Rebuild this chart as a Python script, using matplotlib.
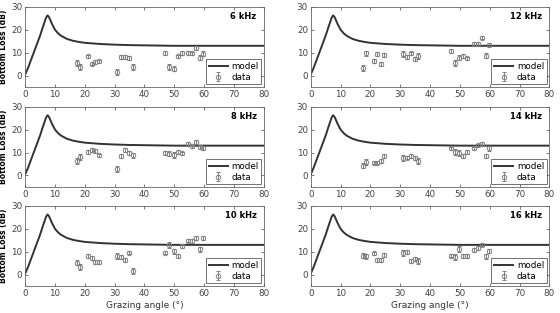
import numpy as np
import matplotlib.pyplot as plt

# model curve (same in every panel)
model_angle = [0, 1, 2, 3, 4, 5, 6, 7, 7.5, 8, 9, 10, 11, 12, 14, 16, 18, 20,
               25, 30, 35, 40, 45, 50, 60, 70, 80]
model_loss = [0.5, 3.5, 7.0, 10.5, 14.0, 17.5, 21.5, 25.3, 26.3, 25.5, 22.5,
              20.0, 18.5, 17.4, 16.0, 15.2, 14.7, 14.3, 13.8, 13.5, 13.3,
              13.2, 13.1, 13.0, 13.0, 13.0, 13.0]

# measurement angles (shared by all frequencies)
angles = [17.5, 18.5, 21.1, 22.3, 23.4, 24.6, 30.9, 32.1, 33.6, 34.8, 36.1,
          46.9, 48.3, 49.8, 51.1, 52.5, 54.6, 56.0, 57.3, 58.6, 59.7]
err = [1.2, 1.2, 0.8, 0.8, 0.8, 0.8, 1.3, 0.8, 0.8, 0.8, 1.3,
       0.8, 1.2, 1.2, 0.8, 0.8, 0.8, 0.8, 0.8, 1.0, 1.0]

loss_6k = [5.5, 3.7, 8.4, 5.2, 5.8, 6.2, 1.5, 8.1, 8.1, 7.8, 3.7,
           9.9, 3.7, 3.0, 8.4, 9.9, 10.0, 9.7, 12.1, 7.8, 9.6]
loss_8k = [6.2, 8.1, 10.3, 11.1, 10.8, 8.7, 2.7, 8.4, 11.1, 9.9, 8.7,
           9.9, 9.5, 8.9, 10.3, 9.6, 13.6, 12.7, 14.5, 12.4, 12.0]
loss_10k = [5.2, 3.4, 8.1, 7.4, 5.5, 5.6, 8.1, 7.8, 6.4, 9.6, 1.6,
            9.6, 12.9, 10.2, 8.1, 12.4, 14.9, 14.8, 16.0, 11.1, 16.0]
loss_12k = [3.4, 9.7, 6.3, 9.3, 5.0, 9.1, 9.3, 8.2, 9.7, 7.2, 8.7,
            10.7, 5.4, 7.8, 8.5, 7.5, 13.7, 13.8, 16.6, 8.7, 13.4]
loss_14k = [4.3, 5.9, 5.6, 5.6, 6.3, 8.5, 7.8, 7.8, 8.5, 7.7, 6.5,
            11.8, 10.2, 9.7, 8.5, 10.2, 11.8, 13.1, 13.6, 8.5, 11.8]
loss_16k = [8.3, 8.0, 9.3, 6.3, 6.3, 8.7, 9.3, 10.0, 5.9, 6.9, 5.9,
            8.3, 7.8, 11.2, 8.0, 8.0, 10.8, 11.7, 13.1, 8.0, 10.3]

panels = [("6 kHz", loss_6k), ("12 kHz", loss_12k),
          ("8 kHz", loss_8k), ("14 kHz", loss_14k),
          ("10 kHz", loss_10k), ("16 kHz", loss_16k)]

plt.rcParams['font.family'] = 'DejaVu Sans'
fig = plt.figure(figsize=(5.6, 3.13), dpi=100)

lefts = [0.045, 0.555]
bottoms = [0.722, 0.403, 0.086]
w, h = 0.426, 0.256

for i, (title, loss) in enumerate(panels):
    row, col = i // 2, i % 2
    ax = fig.add_axes([lefts[col], bottoms[row], w, h])
    ax.plot(model_angle, model_loss, color='#333333', lw=1.4, label='model')
    ax.errorbar(angles, loss, yerr=err, fmt='o', ms=3.2, mfc='none',
                mec='#808080', mew=0.7, ecolor='#808080', elinewidth=0.7,
                capsize=1.2, capthick=0.6, label='data')
    ax.set_xlim(0, 80)
    ax.set_ylim(-5, 30)
    ax.set_xticks(range(0, 81, 10))
    ax.set_yticks([0, 10, 20, 30])
    ax.tick_params(direction='in', labelsize=6.3, length=2.5, width=0.5,
                   colors='#444444', pad=2, top=True, right=True)
    for s in ax.spines.values():
        s.set_color('#666666')
        s.set_linewidth(0.6)
    ax.text(0.97, 0.88, title, transform=ax.transAxes, ha='right',
            va='center', fontsize=6, fontweight='bold')
    leg = ax.legend(loc='lower right', fontsize=6.3, frameon=True,
                    fancybox=False, borderpad=0.3, labelspacing=0.2,
                    handlelength=2.2, handletextpad=0.4, borderaxespad=0.3)
    leg.get_frame().set_edgecolor('#333333')
    leg.get_frame().set_linewidth(0.6)
    if col == 0:
        ax.set_ylabel('Bottom Loss (dB)', fontsize=5.5, fontweight='bold')
        ax.yaxis.set_label_coords(-0.072, 0.5)
    if row == 2:
        ax.set_xlabel('Grazing angle (°)', fontsize=6.5, color='#333333',
                      labelpad=2.5)

fig.savefig('out.png', dpi=100)
